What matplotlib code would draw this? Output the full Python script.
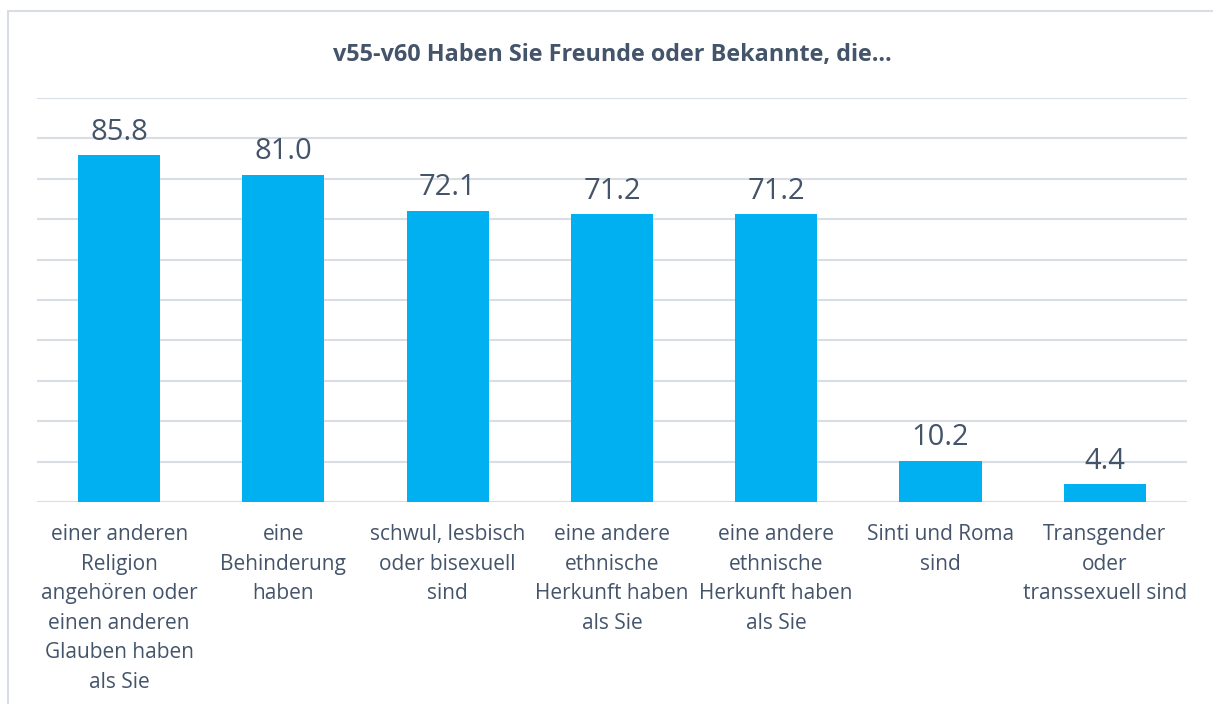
import matplotlib.pyplot as plt
from matplotlib.patches import Rectangle

# categories and values (percent)
categories = [
    "einer anderen\nReligion\nangehören oder\neinen anderen\nGlauben haben\nals Sie",
    "eine\nBehinderung\nhaben",
    "schwul, lesbisch\noder bisexuell\nsind",
    "eine andere\nethnische\nHerkunft haben\nals Sie",
    "eine andere\nethnische\nHerkunft haben\nals Sie",
    "Sinti und Roma\nsind",
    "Transgender\noder\ntranssexuell sind",
]
values = [85.8, 81.0, 72.1, 71.2, 71.2, 10.2, 4.4]
title = "v55-v60 Haben Sie Freunde oder Bekannte, die…"

bar_color = "#00B0F0"
text_color = "#44546A"
grid_color = "#D9DEE5"

plt.rcParams['font.family'] = ['Open Sans', 'DejaVu Sans']

fig = plt.figure(figsize=(12.13, 7.04), dpi=100)
ax = fig.add_axes([0.0305, 0.2869, 0.948, 0.574])

x = range(len(values))
bars = ax.bar(x, values, width=0.5, color=bar_color, zorder=3)

ax.set_xlim(-0.5, len(values) - 0.5)
ax.set_ylim(0, 100)
ax.set_yticks(range(0, 101, 10))
ax.yaxis.grid(True, color=grid_color, lw=1.5, zorder=0)
ax.tick_params(left=False, labelleft=False, bottom=False, labelbottom=False)
for s in ax.spines.values():
    s.set_visible(False)

# value labels
for b, v in zip(bars, values):
    ax.annotate(f"{v:.1f}", (b.get_x() + b.get_width() / 2, v),
                xytext=(0, 6), textcoords='offset points',
                ha='center', va='bottom', fontsize=21, color=text_color)

# category labels
for i, c in enumerate(categories):
    ax.annotate(c, (i, 0), xytext=(0, -16), textcoords='offset points',
                ha='center', va='top', fontsize=15, color=text_color,
                linespacing=1.53, annotation_clip=False)

fig.text(0.505, 0.922, title, ha='center', va='center', fontsize=16.8,
         fontweight='bold', color=text_color)

# chart border
fig.patches.append(Rectangle((8 / 1213, -0.1), 1.2, 1 - 11 / 704 + 0.1,
                             transform=fig.transFigure, fill=False,
                             edgecolor=grid_color, lw=1.5))

plt.savefig('out.png')
